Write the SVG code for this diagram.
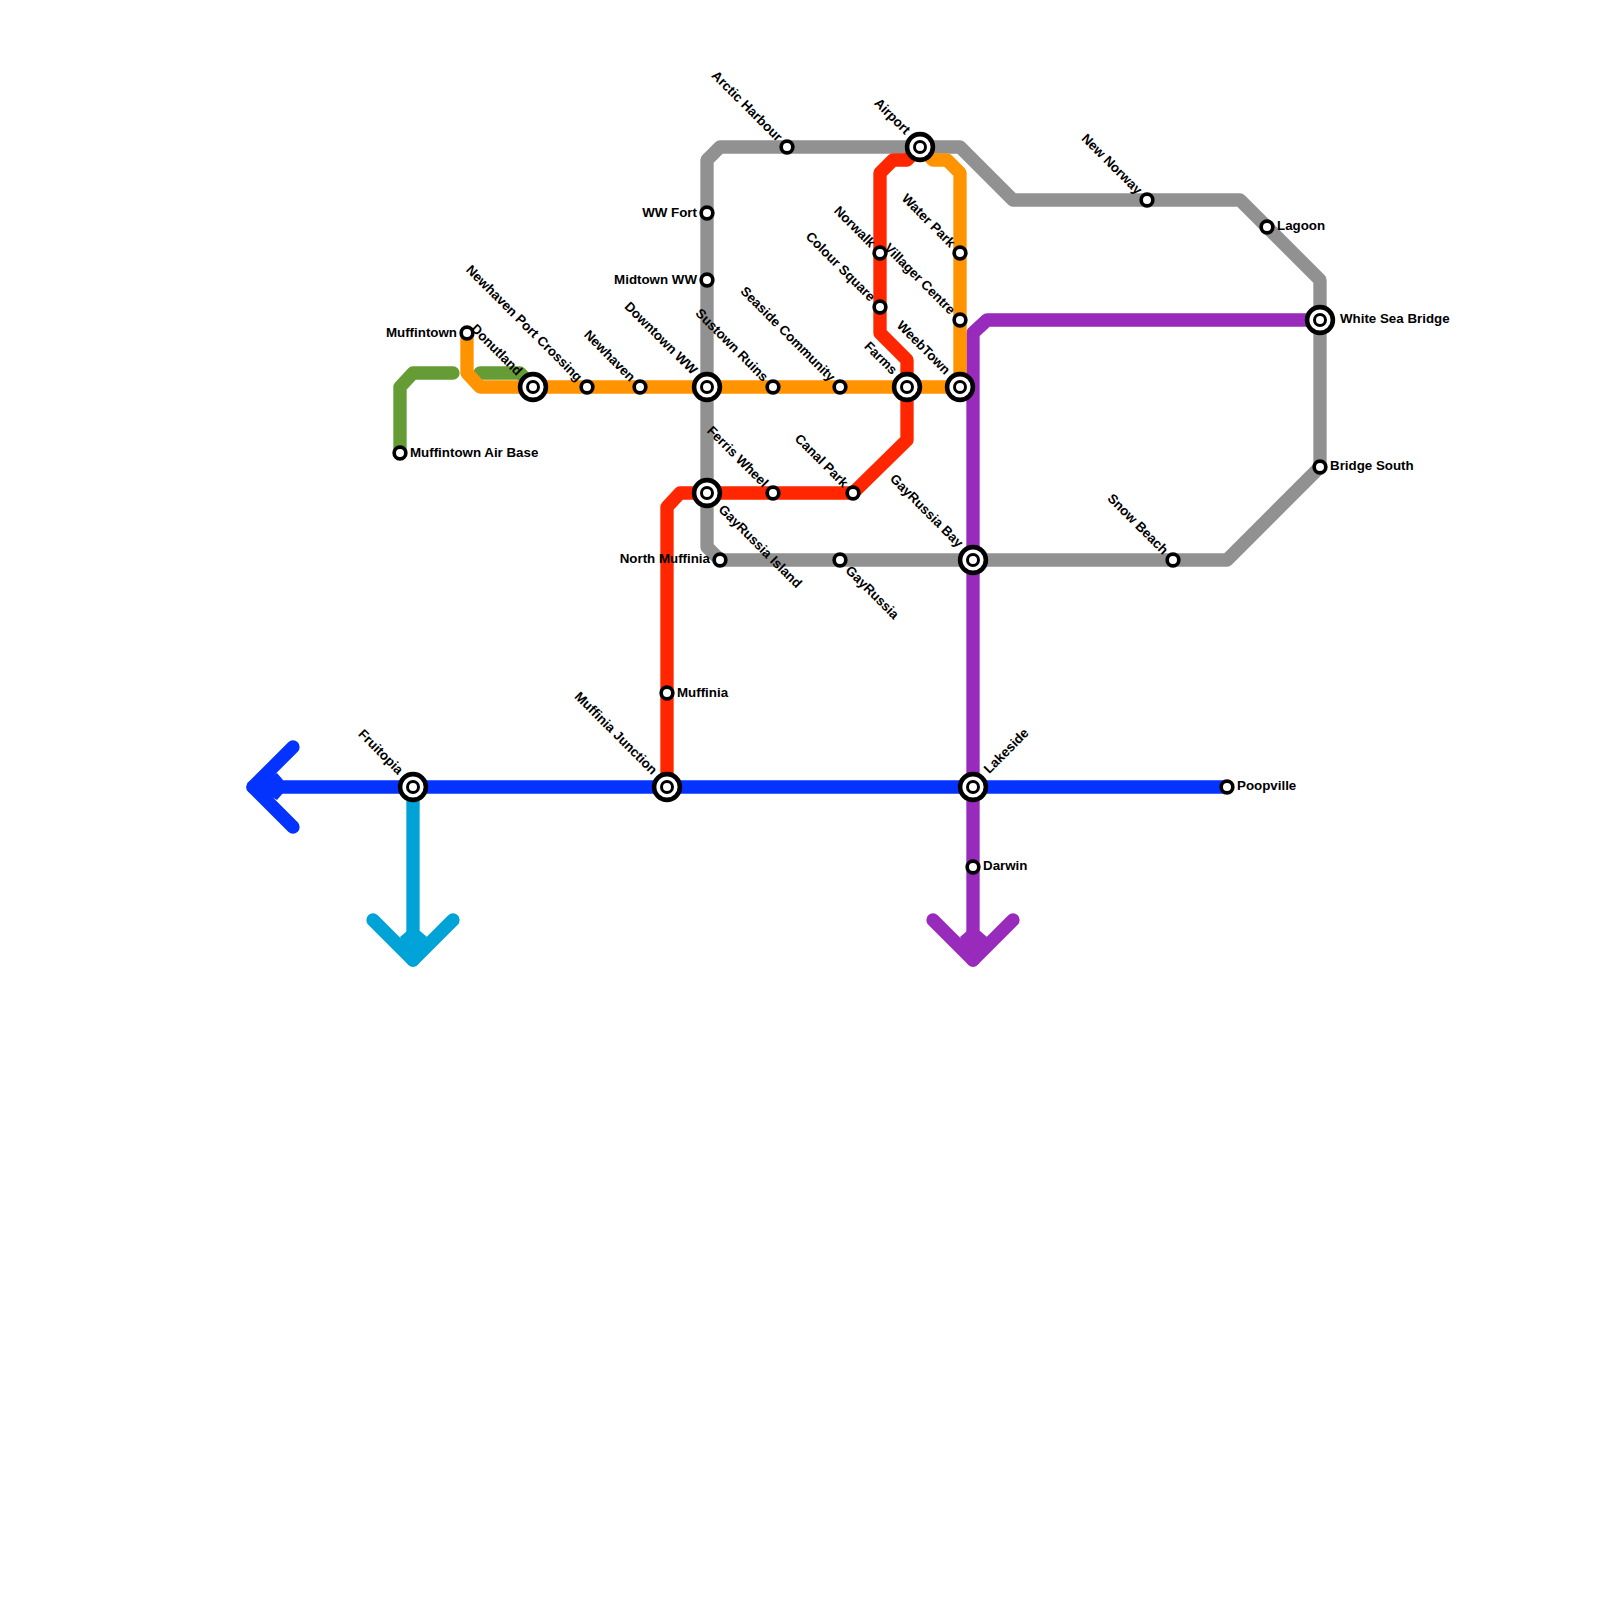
<svg xmlns="http://www.w3.org/2000/svg" width="1600" height="1600" viewBox="0 0 1600 1600">
<style>
.l{fill:none;stroke-width:13.33;stroke-linejoin:round;stroke-linecap:round}
.g{stroke:#919191}.o{stroke:#FF9300}.r{stroke:#FF2600}.p{stroke:#982ABC}.b{stroke:#0433FF}.c{stroke:#00A3D7}.v{stroke:#669C35}
.s{fill:#fff;stroke:#000;stroke-width:3.67}
.m{fill:#fff;stroke:#000;stroke-width:3}
.i{fill:#fff;stroke:#000;stroke-width:4.6}
text{font-family:"Liberation Sans",Arial,sans-serif;font-weight:700;font-size:13.33px;fill:#000;dominant-baseline:central}
.e{text-anchor:end}
</style>
<defs>
<g id="st"><circle class="s" r="5.83"/></g>
<g id="ic"><circle class="i" r="12.9"/><circle class="m" r="5.5"/></g>
</defs>
<rect width="1600" height="1600" fill="#fff"/>
<g id="connectors">
<path class="l v" d="M400 453V387L413 373H453"/>
<path class="l v" d="M480 373H520L533 387"/>
<path class="l g" d="M720 560L707 547V160L720 147H960L1013 200H1240L1320 280V467L1227 560Z"/>
<path class="l p" d="M1320 320H987L973 333V960"/>
<path class="l p" d="M933 920L973 960L1013 920"/>
<polygon points="960,937 967,931 980,931 987,937 973,960" fill="#982ABC"/>
<path class="l b" d="M1227 787H253"/>
<path class="l b" d="M293 747L253 787L293 827"/>
<polygon points="277,773 283,780 283,793 277,800 253,787" fill="#0433FF"/>
<path class="l c" d="M413 787V960"/>
<path class="l c" d="M373 920L413 960L453 920"/>
<polygon points="400,937 407,931 420,931 427,937 413,960" fill="#00A3D7"/>
<path class="l r" d="M920 147L907 160H893L880 173V333L907 360V440L853 493H680L667 507V787"/>
<path class="l o" d="M467 333V373L480 387H960V173L947 160H933L920 147"/>
</g>
<g id="n-muffintown-air-base"><use href="#st" x="400" y="453"/><text x="410" y="452">Muffintown Air Base</text></g>
<g id="n-muffintown"><use href="#st" x="467" y="333"/><text class="e" x="457" y="332">Muffintown</text></g>
<g id="n-donutland"><use href="#ic" x="533" y="387"/><text class="e" transform="translate(520 373) rotate(45)">Donutland</text></g>
<g id="n-newhaven-port-crossing"><use href="#st" x="587" y="387"/><text class="e" transform="translate(580 379) rotate(45)">Newhaven Port Crossing</text></g>
<g id="n-newhaven"><use href="#st" x="640" y="387"/><text class="e" transform="translate(633 379) rotate(45)">Newhaven</text></g>
<g id="n-downtown-ww"><use href="#ic" x="707" y="387"/><text class="e" transform="translate(695 372) rotate(45)">Downtown WW</text></g>
<g id="n-wwfort"><use href="#st" x="707" y="213"/><text class="e" x="697" y="212">WW Fort</text></g>
<g id="n-midtown-ww"><use href="#st" x="707" y="280"/><text class="e" x="697" y="279">Midtown WW</text></g>
<g id="n-sustown-ruins"><use href="#st" x="773" y="387"/><text class="e" transform="translate(766 379) rotate(45)">Sustown Ruins</text></g>
<g id="n-seaside-community"><use href="#st" x="840" y="387"/><text class="e" transform="translate(833 379) rotate(45)">Seaside Community</text></g>
<g id="n-farms"><use href="#ic" x="907" y="387"/><text class="e" transform="translate(895 372) rotate(45)">Farms</text></g>
<g id="n-weebtown"><use href="#ic" x="960" y="387"/><text class="e" transform="translate(948 372) rotate(45)">WeebTown</text></g>
<g id="n-arctic-harbour"><use href="#st" x="787" y="147"/><text class="e" transform="translate(780 139) rotate(45)">Arctic Harbour</text></g>
<g id="n-airport"><use href="#ic" x="920" y="147"/><text class="e" transform="translate(908 132) rotate(45)">Airport</text></g>
<g id="n-norwalk"><use href="#st" x="880" y="253"/><text class="e" transform="translate(873 245) rotate(45)">Norwalk</text></g>
<g id="n-colour-square"><use href="#st" x="880" y="307"/><text class="e" transform="translate(873 299) rotate(45)">Colour Square</text></g>
<g id="n-water-park"><use href="#st" x="960" y="253"/><text class="e" transform="translate(953 245) rotate(45)">Water Park</text></g>
<g id="n-villager-centre"><use href="#st" x="960" y="320"/><text class="e" transform="translate(953 312) rotate(45)">Villager Centre</text></g>
<g id="n-new-norway"><use href="#st" x="1147" y="200"/><text class="e" transform="translate(1140 192) rotate(45)">New Norway</text></g>
<g id="n-lagoon"><use href="#st" x="1267" y="227"/><text x="1277" y="225">Lagoon</text></g>
<g id="n-white-sea-bridge"><use href="#ic" x="1320" y="320"/><text x="1340" y="318">White Sea Bridge</text></g>
<g id="n-bridge-south"><use href="#st" x="1320" y="467"/><text x="1330" y="465">Bridge South</text></g>
<g id="n-snow-beach"><use href="#st" x="1173" y="560"/><text class="e" transform="translate(1166 552) rotate(45)">Snow Beach</text></g>
<g id="n-gayrussia-island"><use href="#ic" x="707" y="493"/><text transform="translate(721 507) rotate(45)">GayRussia Island</text></g>
<g id="n-ferris-wheel"><use href="#st" x="773" y="493"/><text class="e" transform="translate(766 485) rotate(45)">Ferris Wheel</text></g>
<g id="n-canal-park"><use href="#st" x="853" y="493"/><text class="e" transform="translate(846 485) rotate(45)">Canal Park</text></g>
<g id="n-north-muffinia"><use href="#st" x="720" y="560"/><text class="e" x="710" y="558">North Muffinia</text></g>
<g id="n-gayrussia"><use href="#st" x="840" y="560"/><text transform="translate(848 568) rotate(45)">GayRussia</text></g>
<g id="n-gayrussia-bay"><use href="#ic" x="973" y="560"/><text class="e" transform="translate(961 545) rotate(45)">GayRussia Bay</text></g>
<g id="n-muffinia"><use href="#st" x="667" y="693"/><text x="677" y="692">Muffinia</text></g>
<g id="n-fruitopia"><use href="#ic" x="413" y="787"/><text class="e" transform="translate(401 772) rotate(45)">Fruitopia</text></g>
<g id="n-muffinia-junction"><use href="#ic" x="667" y="787"/><text class="e" transform="translate(655 772) rotate(45)">Muffinia Junction</text></g>
<g id="n-lakeside"><use href="#ic" x="973" y="787"/><text transform="translate(986 771) rotate(-45)">Lakeside</text></g>
<g id="n-poopville"><use href="#st" x="1227" y="787"/><text x="1237" y="785">Poopville</text></g>
<g id="n-darwin"><use href="#st" x="973" y="867"/><text x="983" y="865">Darwin</text></g>
</svg>
